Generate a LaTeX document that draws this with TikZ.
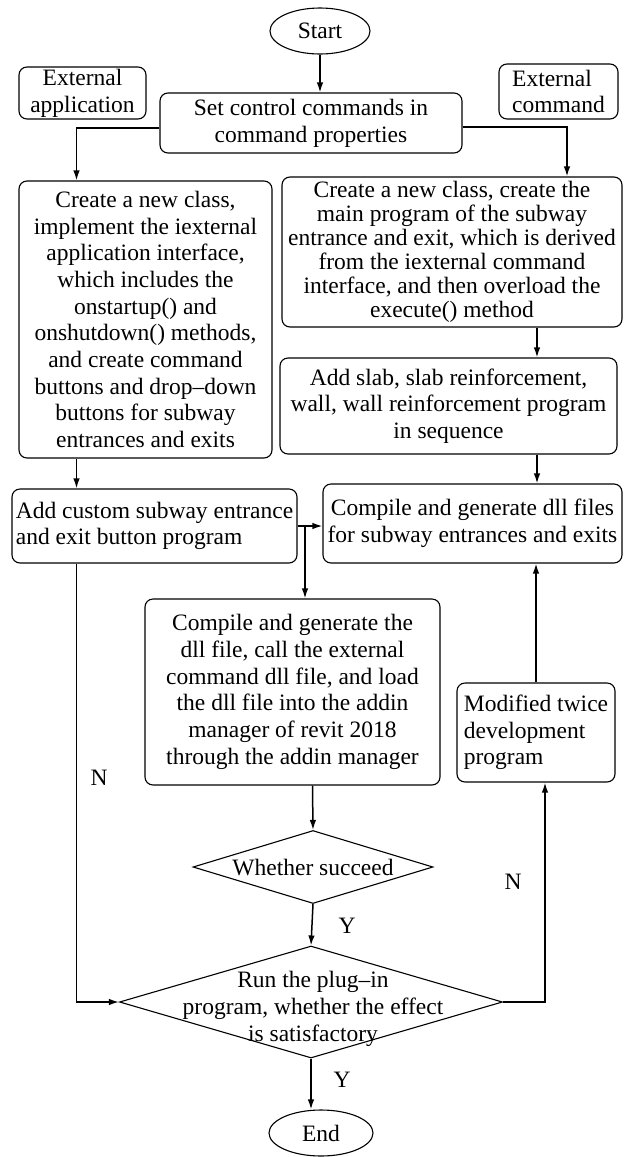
\documentclass[tikz,border=0pt]{standalone}
\usepackage{fontspec}
\setmainfont{Liberation Serif}
\usetikzlibrary{shapes.geometric,arrows.meta}

\tikzset{
  procbox/.style={draw, rounded corners=8pt, line width=1.1pt, inner sep=2pt, align=center},
  terminal/.style={draw, ellipse, line width=1.1pt, inner sep=0pt},
  decision/.style={draw, diamond, line width=1.1pt, inner sep=0pt},
  flow/.style={line width=1.5pt, -{Latex[length=10pt,width=6.5pt]}}
}

\begin{document}
\begin{tikzpicture}[x=1pt, y=-1pt, font=\fontsize{23.5pt}{26.7pt}\selectfont]
  \useasboundingbox (0,0) rectangle (628,1157);

  % columns the connectors run along
  \coordinate (leftcol) at (76.5,0);
  \coordinate (cmdcol) at (567,0);
  \coordinate (rightcol) at (537,0);
  \coordinate (backcol) at (545,0);
  \coordinate (midcol) at (312.5,0);
  \coordinate (split) at (305,525);

  \node [terminal, minimum width=100, minimum height=46] (start) at (320,31) {Start};
  \node [procbox, minimum width=127, minimum height=52] (extapp) at (82.5,93) {External\\application};
  \node [procbox, align=left, minimum width=119, minimum height=55] (extcmd) at (558.5,91.5) {External\\command};
  \node [procbox, minimum width=302, minimum height=60] (setcmd) at (311,123) {Set control commands in\\command properties};

  \node [procbox, minimum width=253, minimum height=277] (newapp) at (145.5,319.5)
    {Create a new class,\\implement the iexternal\\application interface,\\which includes the\\onstartup() and\\onshutdown() methods,\\and create command\\buttons and drop–down\\buttons for subway\\entrances and exits};
  \node [procbox, font=\fontsize{23.5pt}{24pt}\selectfont, minimum width=340, minimum height=150] (newcmd) at (452,252)
    {Create a new class, create the\\main program of the subway\\entrance and exit, which is derived\\from the iexternal command\\interface, and then overload the\\execute() method};
  \node [procbox, minimum width=337, minimum height=96] (addslab) at (448.5,406)
    {Add slab, slab reinforcement,\\wall, wall reinforcement program\\in sequence};

  \node [procbox, align=left, minimum width=285, minimum height=74] (addcustom) at (154.5,526)
    {Add custom subway entrance\\and exit button program};
  \node [procbox, minimum width=299, minimum height=79] (compdll) at (472.5,523.5)
    {Compile and generate dll files\\for subway entrances and exits};
  \node [procbox, minimum width=295, minimum height=186] (compload) at (292.5,692)
    {Compile and generate the\\dll file, call the external\\command dll file, and load\\the dll file into the addin\\manager of revit 2018\\through the addin manager};
  \node [procbox, align=left, minimum width=158, minimum height=99] (modified) at (536,732.5)
    {Modified twice\\development\\program};

  \node [decision, minimum width=240, minimum height=73] (succeed) at (313,867) {};
  \node (succeedtext) at (313,868) {Whether succeed};
  \node [decision, minimum width=383, minimum height=112] (runplug) at (311,1002) {};
  \node [align=center] (runtext) at (313,1009) {Run the plug–in\\program, whether the effect\\is satisfactory};
  \node [terminal, minimum width=104, minimum height=46] (finish) at (321,1133) {End};

  \node (nleft) at (99,778) {N};
  \node (nright) at (513,882) {N};
  \node (yesone) at (347,926) {Y};
  \node (yestwo) at (342,1080) {Y};

  \draw [flow] (start.south) -- (start.south |- setcmd.north);
  \draw [flow] ([yshift=-5pt]setcmd.west) -| (leftcol |- newapp.north);
  \draw [flow] ([yshift=-4pt]setcmd.east) -| (cmdcol |- newcmd.north);
  \draw [flow] (leftcol |- newapp.south) -- (leftcol |- addcustom.north);
  \draw [flow] (rightcol |- newcmd.south) -- (rightcol |- addslab.north);
  \draw [flow] (rightcol |- addslab.south) -- (rightcol |- compdll.north);
  \draw [flow] (addcustom.east) -- (addcustom.east -| compdll.west);
  \draw [flow] (split) -- (split |- compload.north);
  \draw [flow] (midcol |- compload.south) -- (succeed.north);
  \draw [flow] (succeed.south) -- (runplug.north);
  \draw [flow] (runplug.south) -- (runplug.south |- finish.north);
  \draw [flow] (leftcol |- addcustom.south) |- (runplug.west);
  \draw [flow] (runplug.east) -| (backcol |- modified.south);
  \draw [flow] (modified.north) -- (modified.north |- compdll.south);
\end{tikzpicture}
\end{document}
